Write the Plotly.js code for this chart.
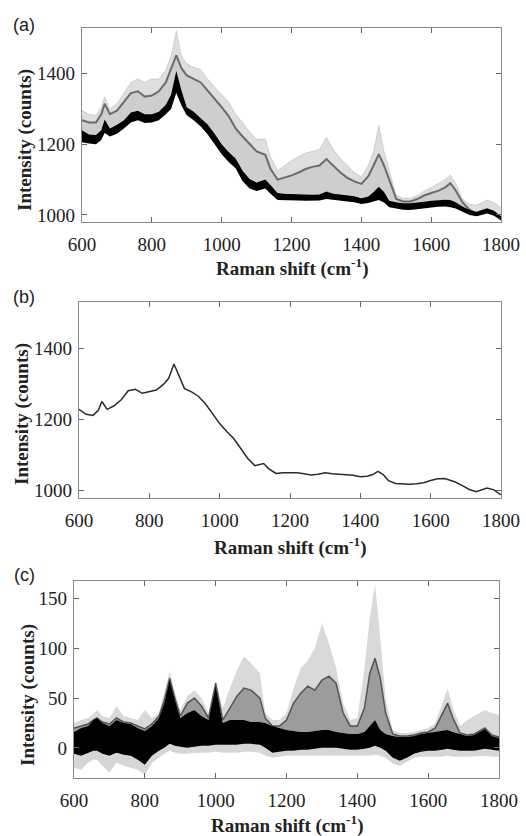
<!DOCTYPE html>
<html>
<head>
<meta charset="utf-8">
<script src="https://cdn.plot.ly/plotly-3.0.1.min.js"></script>
<style>
html,body{margin:0;padding:0;background:#fff;}
#chart{width:526px;height:836px;}
#chart .xtick text, #chart .ytick text, #chart .x2tick text, #chart .y2tick text, #chart .x3tick text, #chart .y3tick text {
  font-family: "Liberation Serif", "Times New Roman", serif !important;
}
</style>
</head>
<body>
<div id="chart"></div>
<script>
// Raman shift grid (cm^-1)
const shift = [600,620,640,655,665,680,700,720,740,760,780,800,820,840,855,870,885,900,920,940,960,980,1000,1020,1040,1060,1080,1100,1125,1140,1160,1180,1200,1220,1240,1260,1280,1300,1320,1340,1360,1380,1400,1420,1435,1450,1465,1480,1500,1520,1540,1560,1580,1600,1620,1640,1655,1670,1690,1710,1730,1760,1780,1800];

// (a) raw spectra: dense black group (lower/upper edge) and grey group (mean line / top envelope)
const aBlackLo = [1206,1202,1200,1212,1232,1222,1230,1245,1262,1268,1260,1262,1268,1285,1300,1345,1310,1282,1268,1250,1228,1200,1172,1150,1132,1095,1075,1068,1075,1060,1042,1042,1042,1041,1040,1040,1041,1045,1042,1040,1038,1036,1031,1034,1038,1042,1035,1022,1018,1015,1014,1015,1018,1021,1023,1024,1022,1018,1010,1000,996,1004,998,984];
const aBlackHi = [1240,1228,1226,1240,1270,1245,1255,1268,1290,1295,1285,1285,1292,1312,1340,1408,1352,1305,1292,1275,1256,1230,1200,1178,1160,1125,1102,1092,1100,1085,1062,1060,1060,1059,1058,1057,1058,1066,1060,1058,1056,1053,1047,1052,1065,1080,1065,1040,1036,1033,1033,1034,1037,1040,1042,1043,1042,1036,1024,1014,1009,1019,1012,996];
const aGreyMid = [1268,1262,1262,1285,1315,1285,1295,1320,1345,1350,1335,1338,1350,1375,1415,1452,1415,1395,1385,1375,1352,1330,1305,1280,1245,1222,1200,1180,1170,1130,1100,1105,1112,1120,1130,1136,1140,1158,1140,1120,1105,1095,1088,1110,1140,1172,1140,1100,1045,1038,1038,1045,1055,1062,1068,1078,1090,1070,1035,1015,1002,1010,1005,990];
const aGreyHi = [1296,1285,1282,1305,1335,1300,1315,1345,1375,1385,1375,1385,1385,1410,1450,1521,1450,1428,1418,1412,1385,1362,1340,1320,1285,1262,1235,1215,1215,1165,1125,1140,1155,1165,1175,1180,1185,1220,1185,1160,1140,1120,1108,1140,1180,1254,1180,1125,1055,1048,1047,1055,1068,1078,1088,1100,1113,1090,1045,1030,1028,1042,1035,1020];

// (b) representative spectrum
const bSpectrum = [1228,1214,1211,1225,1250,1228,1238,1255,1280,1284,1273,1278,1282,1298,1315,1355,1318,1286,1277,1264,1243,1216,1188,1166,1146,1118,1090,1070,1076,1061,1048,1050,1050,1050,1047,1044,1046,1050,1047,1046,1044,1043,1039,1040,1045,1054,1045,1028,1020,1018,1018,1019,1022,1028,1033,1034,1030,1024,1014,1003,997,1007,1002,988];

// (c) baseline-corrected spectra: faint lower tail, dense black band, grey mid line, grey top envelope
const cFaintLo = [-20,-22,-15,-12,-12,-18,-25,-15,-18,-20,-22,-27,-15,-10,-6,-3,-5,-6,-6,-5,-5,-5,-4,-5,-5,-5,-4,-4,-5,-8,-10,-9,-8,-8,-8,-8,-8,-8,-8,-8,-8,-8,-8,-8,-8,-7,-8,-10,-16,-18,-14,-10,-9,-9,-9,-9,-8,-9,-9,-9,-9,-8,-9,-9];
const cBlackLo = [-6,-8,-5,-3,-3,-6,-8,-5,-7,-8,-12,-17,-8,-3,0,4,2,1,0,1,2,2,3,3,3,3,4,4,3,0,-5,-4,-3,-3,-2,-2,-1,0,0,0,-1,-2,-2,-1,0,2,0,-3,-10,-13,-10,-6,-4,-3,-3,-2,-1,-2,-3,-3,-3,-1,-2,-3];
const cBlackHi = [16,20,22,28,30,25,22,28,25,24,20,17,22,30,45,68,48,30,35,38,32,28,62,25,28,28,28,26,26,25,22,20,18,17,16,16,17,18,18,16,15,14,14,16,22,28,18,14,12,11,11,12,14,15,16,17,18,16,14,12,13,19,12,10];
const cGreyMid = [20,22,24,28,30,26,24,30,26,25,22,19,24,32,48,70,50,32,45,50,42,30,65,28,40,52,60,58,50,30,22,22,28,45,55,62,58,68,72,65,35,22,22,40,75,90,70,35,14,12,12,13,15,16,20,35,45,30,15,13,14,20,13,11];
const cGreyHi = [25,28,30,35,38,32,30,42,32,30,28,38,30,35,55,77,55,38,52,58,50,35,68,40,60,78,92,85,75,35,28,28,35,60,80,88,100,125,105,80,45,28,30,80,130,165,110,50,18,15,15,16,18,20,25,45,60,40,22,28,32,38,35,33];

const xTicks = [600,800,1000,1200,1400,1600,1800];
const abTicks = [1000,1200,1400];
const cTicks = [0,50,100,150];

function band(lo, hi, color, xa, ya) {
  const xs = shift.concat(shift.slice().reverse());
  const ys = hi.concat(lo.slice().reverse());
  return {x: xs, y: ys, xaxis: xa, yaxis: ya, type: 'scatter', mode: 'lines',
    fill: 'toself', fillcolor: color, line: {width: 0}, hoverinfo: 'skip', showlegend: false};
}
function line(y, color, w, xa, ya) {
  return {x: shift, y: y, xaxis: xa, yaxis: ya, type: 'scatter', mode: 'lines',
    line: {color: color, width: w}, hoverinfo: 'skip', showlegend: false};
}

const traces = [
  // (a)
  band(aBlackHi, aGreyHi, 'rgba(0,0,0,0.13)', 'x', 'y'),
  band(aBlackHi, aGreyMid, 'rgba(0,0,0,0.07)', 'x', 'y'),
  line(aGreyMid, 'rgba(80,80,80,0.8)', 2, 'x', 'y'),
  line(aGreyHi, 'rgba(0,0,0,0.12)', 1, 'x', 'y'),
  band(aBlackLo, aBlackHi, '#000000', 'x', 'y'),
  // (b)
  line(bSpectrum, '#2b2b2b', 1.5, 'x2', 'y2'),
  // (c)
  band(cFaintLo, cBlackLo, 'rgba(0,0,0,0.16)', 'x3', 'y3'),
  band(cBlackHi, cGreyHi, 'rgba(0,0,0,0.15)', 'x3', 'y3'),
  band(cBlackHi, cGreyMid, 'rgba(0,0,0,0.28)', 'x3', 'y3'),
  line(cGreyMid, 'rgba(40,40,40,0.7)', 1.5, 'x3', 'y3'),
  band(cBlackLo, cBlackHi, '#000000', 'x3', 'y3')
];

const W = 526, H = 836;
const fx = p => p / W;
const fy = p => 1 - p / H;

const SERIF = 'Liberation Serif';
function xax(l, r, anchor) {
  return {domain: [fx(l), fx(r)], anchor: anchor, range: [600, 1800], tickvals: xTicks,
    ticks: 'inside', ticklen: 5, tickcolor: '#666', showline: true, mirror: 'ticks',
    linecolor: '#8a8a8a', linewidth: 1.2, showgrid: false, zeroline: false,
    tickfont: {family: SERIF, size: 19, color: '#222'}, ticklabelstandoff: 5};
}
function yax(t, b, anchor, range, vals) {
  return {domain: [fy(b), fy(t)], anchor: anchor, range: range, tickvals: vals,
    ticks: 'inside', ticklen: 5, tickcolor: '#666', showline: true, mirror: 'ticks',
    linecolor: '#8a8a8a', linewidth: 1.2, showgrid: false, zeroline: false,
    tickfont: {family: SERIF, size: 19, color: '#222'}, ticklabelstandoff: 2};
}

const tFont = {family: SERIF, size: 19, color: '#222'};
const lFont = {family: 'Liberation Sans', size: 18, color: '#222'};
function ann(text, px, py, font, angle) {
  return {text: text, xref: 'paper', yref: 'paper', x: fx(px), y: fy(py),
    xanchor: 'center', yanchor: 'middle', showarrow: false, font: font, textangle: angle || 0};
}
const xTitle = '<b>Raman shift (cm<sup>-1</sup>)</b>';
const yTitle = '<b>Intensity (counts)</b>';

const layout = {
  width: W, height: H, margin: {l: 0, r: 0, t: 0, b: 0},
  font: {family: SERIF, size: 19, color: '#222'},
  paper_bgcolor: '#fff', plot_bgcolor: '#fff', showlegend: false,
  xaxis: xax(82, 501, 'y'),
  yaxis: yax(27.7, 222, 'x', [980, 1530], abTicks),
  xaxis2: xax(79, 501, 'y2'),
  yaxis2: yax(301.7, 497.7, 'x2', [980, 1530], abTicks),
  xaxis3: xax(74, 499, 'y3'),
  yaxis3: yax(580.7, 777.7, 'x3', [-30, 168], cTicks),
  annotations: [
    ann('(a)', 24, 25, lFont), ann('(b)', 24, 297, lFont), ann('(c)', 24, 575, lFont),
    ann(xTitle, 292, 267, tFont), ann(xTitle, 290, 546, tFont), ann(xTitle, 287, 824, tFont),
    ann(yTitle, 25, 140, tFont, -90), ann(yTitle, 22, 414, tFont, -90), ann(yTitle, 28, 695, tFont, -90)
  ]
};

Plotly.newPlot('chart', traces, layout, {staticPlot: true, displayModeBar: false});
</script>
</body>
</html>
